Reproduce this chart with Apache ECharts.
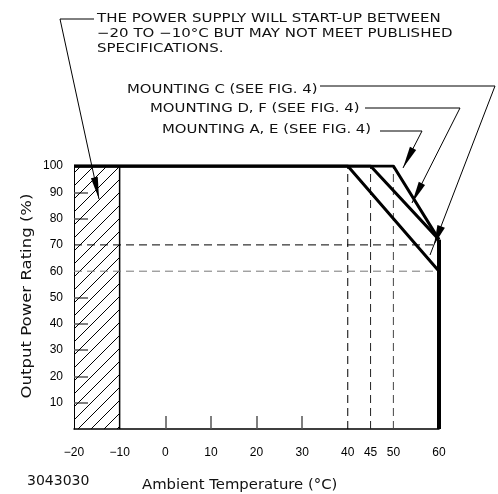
<!DOCTYPE html>
<html><head><meta charset="utf-8">
<script src="https://cdn.jsdelivr.net/npm/echarts@6/dist/echarts.min.js"></script>
<style>html,body{margin:0;padding:0;background:#fff}#c{width:498px;height:494px}</style>
</head><body><div id="c"></div>
<script>
// ---- data ----
const xTickLabels = [-20, -10, 0, 10, 20, 30, 40, 45, 50, 60];
const xTickMarks = [0, 10, 20, 30];
const yTickLabels = [10, 20, 30, 40, 50, 60, 70, 80, 90, 100];
const yTickMarks = [10, 20, 30, 40, 50, 80, 90];
const mountingAE = [[-20, 100], [40, 100], [60, 60]];
const mountingDF = [[-20, 100], [45, 100], [60, 72]];
const mountingC  = [[-20, 100], [50, 100], [60, 72]];
const cutoffLine = [[60, 72], [60, 0]];
const startupZone = [-20, -10];      // temperature range, hatched
const refTemps = [40, 45, 50];        // vertical dashed guides
const refPowers = [70, 60];           // horizontal dashed guides
const noteLines = ['THE POWER SUPPLY WILL START-UP BETWEEN', '\u221220 TO \u221210\u00B0C BUT MAY NOT MEET PUBLISHED', 'SPECIFICATIONS.'];
const mountingLabels = ['MOUNTING C (SEE FIG. 4)', 'MOUNTING D, F (SEE FIG. 4)', 'MOUNTING A, E (SEE FIG. 4)'];

// ---- hatch pattern ----
const H = 13;
const pc = document.createElement('canvas');
pc.width = H; pc.height = H;
const g = pc.getContext('2d');
g.strokeStyle = '#000'; g.lineWidth = 1;
g.beginPath(); g.moveTo(-1, H + 1); g.lineTo(H + 1, -1); g.stroke();
g.beginPath(); g.moveTo(-1, 1); g.lineTo(1, -1); g.stroke();
g.beginPath(); g.moveTo(H - 1, H + 1); g.lineTo(H + 1, H - 1); g.stroke();

const chart = echarts.init(document.getElementById('c'), null, {renderer: 'canvas'});
const txtFont = 'DejaVu Sans';
const lab = {fontFamily: 'Liberation Sans', fontSize: 12, color: '#000'};

function arrowHead(tx, ty, fx, fy, len, hw) {
  const dx = tx - fx, dy = ty - fy, d = Math.hypot(dx, dy);
  const ux = dx / d, uy = dy / d;
  const bx = tx - ux * len, by = ty - uy * len;
  return {type: 'polygon', shape: {points: [[tx, ty], [bx - uy * hw, by + ux * hw], [bx + uy * hw, by - ux * hw]]}, style: {fill: '#000'}, z: 100};
}
function leader(points, tip) {
  const pts = points.concat([tip]);
  const prev = pts[pts.length - 2];
  return [
    {type: 'polyline', shape: {points: pts}, style: {stroke: '#000', lineWidth: 1, fill: null}, z: 100},
    arrowHead(tip[0], tip[1], prev[0], prev[1], 22, 3.5)
  ];
}

const graphics = [];
noteLines.forEach((t, i) => graphics.push({type: 'text', x: 97, y: 18.5 + i * 15, scaleX: 1.2, style: {text: t, font: '12.5px ' + txtFont, fill: '#111', textVerticalAlign: 'middle'}, z: 100}));
const mx = [127, 150, 162], my = [90, 109, 130];
mountingLabels.forEach((t, i) => graphics.push({type: 'text', x: mx[i], y: my[i], scaleX: 1.19, style: {text: t, font: '12.5px ' + txtFont, fill: '#111', textVerticalAlign: 'middle'}, z: 100}));
graphics.push(...leader([[94, 19], [60, 19]], [99, 199]));
graphics.push({type: 'polyline', shape: {points: [[320, 86], [495, 86], [430, 255]]}, style: {stroke: '#000', lineWidth: 1, fill: null}, z: 100});
graphics.push(arrowHead(434, 245, 495, 86, 20, 4));
graphics.push(...leader([[365, 108], [460, 108]], [412, 203]));
graphics.push(...leader([[380, 131], [422, 131]], [403, 168]));
graphics.push({type: 'text', x: 142, y: 485, scaleX: 1.06, style: {text: 'Ambient Temperature (\u00B0C)', font: '14px ' + txtFont, fill: '#111', textVerticalAlign: 'middle'}});
graphics.push({type: 'text', x: 27, y: 481, style: {text: '3043030', font: '14px ' + txtFont, fill: '#111', textVerticalAlign: 'middle'}});
graphics.push({type: 'text', x: 27, y: 296, rotation: Math.PI / 2, scaleX: 1.14, style: {text: 'Output Power Rating (%)', font: '14.5px ' + txtFont, fill: '#111', textAlign: 'center', textVerticalAlign: 'middle'}});

function dashed(data, color) {
  return {type: 'line', data: data, symbol: 'none', silent: true, z: 2,
    lineStyle: {color: color, width: 1, type: [8, 5]}};
}
const guideColorsV = ['#000', '#222', '#444'];
const guideColorsH = ['#000', '#777'];

const series = [
  {type: 'custom', z: 1, silent: true, data: [[startupZone[0], startupZone[1], 0, 100]],
   renderItem: function (params, api) {
     const p0 = api.coord([api.value(0), api.value(3)]);
     const p1 = api.coord([api.value(1), api.value(2)]);
     return {type: 'group', children: [
       {type: 'rect', shape: {x: p0[0], y: p0[1], width: p1[0] - p0[0], height: p1[1] - p0[1]}, style: {fill: {image: pc, repeat: 'repeat'}}},
       {type: 'line', shape: {x1: p1[0], y1: p0[1], x2: p1[0], y2: p1[1]}, style: {stroke: '#000', lineWidth: 1.5}}
     ]};
   }}
];
refTemps.forEach((t, i) => series.push(dashed([[t, 0], [t, 100]], guideColorsV[i])));
refPowers.forEach((p, i) => series.push(dashed([[-20, p], [60, p]], guideColorsH[i])));
[mountingAE, mountingDF, mountingC].forEach(d => series.push({type: 'line', data: d, symbol: 'none', silent: true, z: 5, lineStyle: {color: '#000', width: 3}}));
series.push({type: 'line', data: cutoffLine, symbol: 'none', silent: true, z: 5, lineStyle: {color: '#000', width: 4}});

chart.setOption({
  animation: false,
  backgroundColor: '#fff',
  grid: {left: 74, right: 59, top: 166, bottom: 65, outerBoundsMode: 'none', containLabel: false},
  xAxis: {type: 'value', min: -20, max: 60, interval: 5,
    axisLine: {show: true, onZero: false, lineStyle: {color: '#000', width: 1.5}},
    axisTick: {show: true, inside: true, length: 13, customValues: xTickMarks, lineStyle: {color: '#555', width: 1.5}},
    axisLabel: {show: true, margin: 18, customValues: xTickLabels, formatter: v => (v < 0 ? '\u2212' + Math.abs(v) : String(v)), ...lab},
    splitLine: {show: false}},
  yAxis: {type: 'value', min: 0, max: 100, interval: 10,
    axisLine: {show: true, onZero: false, lineStyle: {color: '#000', width: 1}},
    axisTick: {show: true, inside: true, length: 14, customValues: yTickMarks, lineStyle: {color: '#555', width: 1.5}},
    axisLabel: {show: true, margin: 11, customValues: yTickLabels, ...lab},
    splitLine: {show: false}},
  series: series,
  graphic: graphics
});
</script></body></html>
